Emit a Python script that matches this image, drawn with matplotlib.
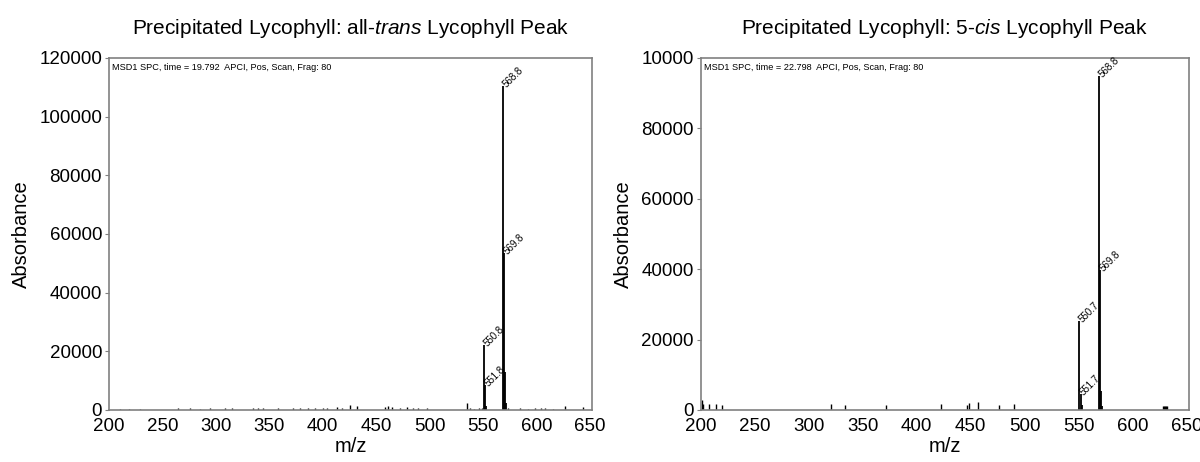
import matplotlib
matplotlib.use("Agg")
import matplotlib.pyplot as plt

plt.rcParams['font.family'] = ['Liberation Sans', 'DejaVu Sans']
plt.rcParams['mathtext.fontset'] = 'custom'
plt.rcParams['mathtext.rm'] = 'Liberation Sans'
plt.rcParams['mathtext.it'] = 'Liberation Sans:italic'

# all-trans peak: main ions
trans_mz = [550.8, 551.8, 552.8, 568.8, 569.8, 570.8, 571.8]
trans_abs = [22300, 8600, 1500, 110400, 53500, 13000, 2500]
trans_lab_mz = [568.8, 569.8, 550.8, 551.8]
trans_lab_abs = [110400, 53500, 22300, 8600]
trans_lab = ["568.8", "569.8", "550.8", "551.8"]
# all-trans peak: background ions
trans_bg_mz = [210, 219, 229, 264.6, 275.8, 285, 294.5, 308.5, 315, 334.8, 339.4,
               344, 358, 372, 378.7, 386, 392.8, 400, 404, 413, 417.7, 425.5,
               431.8, 458, 461, 465, 472, 478.6, 484.5, 489, 497.6, 534.7, 538,
               542, 546, 549, 573, 584.6, 592, 599, 604, 608, 615.5, 626.7, 643.6]
trans_bg_abs = [500, 500, 500, 600, 600, 500, 600, 700, 600, 700, 600,
                700, 700, 800, 700, 800, 700, 800, 700, 900, 800, 1600,
                1400, 1000, 1200, 1000, 800, 900, 800, 800, 600, 2300, 600,
                500, 600, 700, 800, 600, 500, 700, 600, 700, 500, 1400, 1000]

# 5-cis peak: main ions
cis_mz = [550.7, 551.7, 552.7, 568.8, 569.8, 570.8, 571.8]
cis_abs = [25200, 4600, 1500, 95000, 39800, 5400, 1200]
cis_lab_mz = [568.8, 569.8, 550.7, 551.7]
cis_lab_abs = [95000, 39800, 25200, 4600]
cis_lab = ["568.8", "569.8", "550.7", "551.7"]
# 5-cis peak: background ions
cis_bg_mz = [201, 202.5, 208, 214, 219.5, 320.6, 334, 371.6, 422.5, 447, 448,
             456.5, 476.5, 490, 628, 629, 630, 631, 632]
cis_bg_abs = [2800, 1700, 1700, 1700, 1400, 1700, 1400, 1400, 1700, 1400, 2000,
              2200, 1400, 1700, 1100, 1200, 1100, 1100, 1000]

xticks = [200, 250, 300, 350, 400, 450, 500, 550, 600, 650]
trans_yticks = [0, 20000, 40000, 60000, 80000, 100000, 120000]
trans_ylabels = ["0", "20000", "40000", "60000", "80000", "100000", "120000"]
cis_yticks = [0, 20000, 40000, 60000, 80000, 100000]
cis_ylabels = ["0", "20000", "40000", "60000", "80000", "10000"]


def draw_panel(ax, title, header, mz, ab, bg_mz, bg_ab, lab_mz, lab_ab, lab,
               yticks, ylabels, ymax):
    ax.vlines(bg_mz, 0, bg_ab, color="black", linewidth=1)
    ax.vlines(mz, 0, ab, color="black", linewidth=1.3)
    # peak labels, tilted up to the right from the tip
    for x, y, t in zip(lab_mz, lab_ab, lab):
        ax.text(x + 1.2, y, t, rotation=45, fontsize=7, ha="left",
                va="center", rotation_mode="anchor", clip_on=False)
    ax.text(0.006, 0.985, header, transform=ax.transAxes, fontsize=6.6,
            ha="left", va="top")
    ax.set_xlim(200, 652)
    ax.set_ylim(0, ymax)
    ax.set_xticks(xticks)
    ax.set_yticks(yticks)
    ax.set_yticklabels(ylabels)
    ax.tick_params(axis="x", length=0, labelsize=13.5, pad=6)
    ax.tick_params(axis="y", length=3, color="#808080", labelsize=13.5, pad=2)
    for s in ax.spines.values():
        s.set_color("#808080")
        s.set_linewidth(1.2)
    ax.set_title(title, fontsize=15, pad=17)
    ax.set_xlabel("m/z", fontsize=14.5, labelpad=1)
    ax.set_ylabel("Absorbance", fontsize=14.5, labelpad=6)


fig = plt.figure(figsize=(12, 4.62), dpi=100)
ax1 = fig.add_axes([0.0908, 0.1126, 0.4025, 0.762])
ax2 = fig.add_axes([0.584, 0.1126, 0.4067, 0.762])

draw_panel(ax1, r"Precipitated Lycophyll: all-$\mathit{trans}$ Lycophyll Peak",
           "MSD1 SPC, time = 19.792  APCI, Pos, Scan, Frag: 80",
           trans_mz, trans_abs, trans_bg_mz, trans_bg_abs,
           trans_lab_mz, trans_lab_abs, trans_lab,
           trans_yticks, trans_ylabels, 120000)
draw_panel(ax2, r"Precipitated Lycophyll: 5-$\mathit{cis}$ Lycophyll Peak",
           "MSD1 SPC, time = 22.798  APCI, Pos, Scan, Frag: 80",
           cis_mz, cis_abs, cis_bg_mz, cis_bg_abs,
           cis_lab_mz, cis_lab_abs, cis_lab,
           cis_yticks, cis_ylabels, 100000)

fig.savefig("out.png", dpi=100)
